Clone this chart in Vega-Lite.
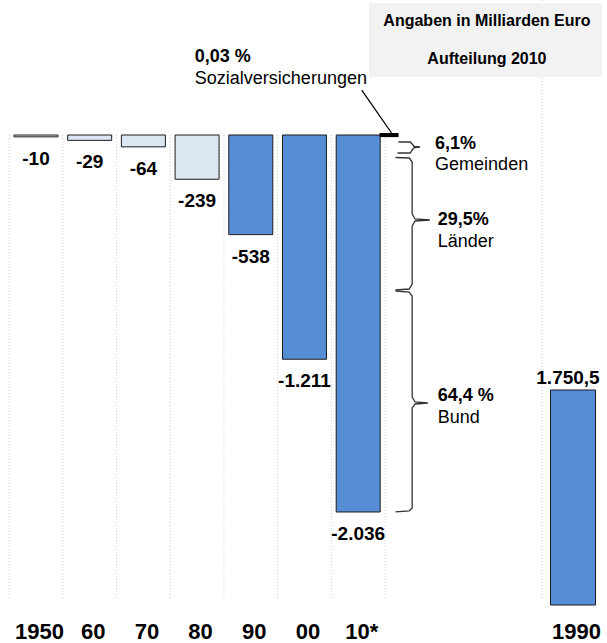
{
  "$schema": "https://vega.github.io/schema/vega-lite/v6.json",
  "width": 607,
  "height": 610,
  "padding": {"left": 0, "top": 0, "right": 0, "bottom": 33},
  "autosize": {"type": "none"},
  "config": {"view": {"stroke": null}, "font": "Liberation Sans", "text": {"font": "Liberation Sans"}},
  "datasets": {
    "bars": [
      {"year": 1950, "value": -10, "label": "-10", "group": "hell"},
      {"year": 1960, "value": -29, "label": "-29", "group": "hell"},
      {"year": 1970, "value": -64, "label": "-64", "group": "hell"},
      {"year": 1980, "value": -239, "label": "-239", "group": "hell"},
      {"year": 1990, "value": -538, "label": "-538", "group": "blau"},
      {"year": 2000, "value": -1211, "label": "-1.211", "group": "blau"},
      {"year": 2010, "value": -2036, "label": "-2.036", "group": "blau"}
    ],
    "grid": [
      {"year": 1945}, {"year": 1955}, {"year": 1965}, {"year": 1975},
      {"year": 1985}, {"year": 1995}, {"year": 2005}, {"year": 2015}
    ],
    "gridFull": [{"year": 2044.23}],
    "sozial": [{"year": 2015.75, "value": -0.6}],
    "braces": [
      {"brace": "Gemeinden", "i": 0, "year": 2017.49, "v": -37.8},
      {"brace": "Gemeinden", "i": 1, "year": 2019.69, "v": -37.8},
      {"brace": "Gemeinden", "i": 2, "year": 2020.05, "v": -48.6},
      {"brace": "Gemeinden", "i": 3, "year": 2020.42, "v": -62.1},
      {"brace": "Gemeinden", "i": 4, "year": 2021.52, "v": -64.8},
      {"brace": "Gemeinden", "i": 5, "year": 2020.42, "v": -67.5},
      {"brace": "Gemeinden", "i": 6, "year": 2020.05, "v": -81.0},
      {"brace": "Gemeinden", "i": 7, "year": 2019.69, "v": -97.2},
      {"brace": "Gemeinden", "i": 8, "year": 2017.31, "v": -97.2},
      {"brace": "Länder", "i": 0, "year": 2016.94, "v": -121.5},
      {"brace": "Länder", "i": 1, "year": 2019.50, "v": -124.2},
      {"brace": "Länder", "i": 2, "year": 2020.05, "v": -145.8},
      {"brace": "Länder", "i": 3, "year": 2020.05, "v": -426.6},
      {"brace": "Länder", "i": 4, "year": 2020.60, "v": -453.6},
      {"brace": "Länder", "i": 5, "year": 2023.35, "v": -459.0},
      {"brace": "Länder", "i": 6, "year": 2020.60, "v": -464.4},
      {"brace": "Länder", "i": 7, "year": 2020.05, "v": -491.4},
      {"brace": "Länder", "i": 8, "year": 2020.05, "v": -804.7},
      {"brace": "Länder", "i": 9, "year": 2019.50, "v": -831.7},
      {"brace": "Länder", "i": 10, "year": 2016.94, "v": -837.1},
      {"brace": "Bund", "i": 0, "year": 2016.94, "v": -842.5},
      {"brace": "Bund", "i": 1, "year": 2019.50, "v": -847.9},
      {"brace": "Bund", "i": 2, "year": 2020.05, "v": -869.5},
      {"brace": "Bund", "i": 3, "year": 2020.05, "v": -1414.9},
      {"brace": "Bund", "i": 4, "year": 2020.60, "v": -1441.9},
      {"brace": "Bund", "i": 5, "year": 2022.98, "v": -1447.3},
      {"brace": "Bund", "i": 6, "year": 2020.60, "v": -1452.7},
      {"brace": "Bund", "i": 7, "year": 2020.05, "v": -1474.3},
      {"brace": "Bund", "i": 8, "year": 2020.05, "v": -2014.3},
      {"brace": "Bund", "i": 9, "year": 2019.50, "v": -2030.5},
      {"brace": "Bund", "i": 10, "year": 2016.94, "v": -2035.9}
    ],
    "annoBold": [
      {"year": 1979.58, "v": 421.2, "text": "0,03 %"},
      {"year": 2024.32, "v": -48.6, "text": "6,1%"},
      {"year": 2024.82, "v": -459.0, "text": "29,5%"},
      {"year": 2024.82, "v": -1412.2, "text": "64,4 %"}
    ],
    "annoNormal": [
      {"year": 1979.58, "v": 302.4, "text": "Sozialversicherungen"},
      {"year": 2024.32, "v": -164.7, "text": "Gemeinden"},
      {"year": 2024.82, "v": -577.8, "text": "Länder"},
      {"year": 2024.82, "v": -1528.3, "text": "Bund"}
    ],
    "pointer": [{"year": 2010.66, "v": 243.0, "year2": 2016.21, "v2": 10.8}],
    "box": [{"year": 2012.0, "year2": 2055.4, "v": 712.9, "v2": 313.2}],
    "boxText": [
      {"year": 2033.97, "v": 615.6, "text": "Angaben in Milliarden Euro"},
      {"year": 2033.97, "v": 410.4, "text": "Aufteilung 2010"}
    ],
    "bar1990": [{"year": 2050, "value": 1750.5, "label": "1.750,5"}]
  },
  "layer": [
    {
      "layer": [
        {
          "data": {"name": "grid"},
          "mark": {"type": "rule", "stroke": "#cfcfcf", "strokeWidth": 1, "strokeDash": [1, 2]},
          "encoding": {
            "x": {"field": "year", "type": "quantitative", "scale": {"domain": [1944.23, 2055.4], "nice": false, "zero": false}},
            "y": {"datum": 0, "type": "quantitative", "scale": {"domain": [-2565.3, 729.1], "nice": false, "zero": false}, "axis": null},
            "y2": {"datum": -2511}
          }
        },
        {
          "data": {"name": "gridFull"},
          "mark": {"type": "rule", "stroke": "#cfcfcf", "strokeWidth": 1, "strokeDash": [1, 2]},
          "encoding": {
            "x": {"field": "year", "type": "quantitative"},
            "y": {"datum": 729.1, "type": "quantitative", "axis": null},
            "y2": {"datum": -2511}
          }
        },
        {
          "data": {"name": "box"},
          "mark": {"type": "rect", "fill": "#f2f2f2"},
          "encoding": {
            "x": {"field": "year", "type": "quantitative"},
            "x2": {"field": "year2"},
            "y": {"field": "v", "type": "quantitative", "axis": null},
            "y2": {"field": "v2"}
          }
        },
        {
          "data": {"name": "boxText"},
          "mark": {"type": "text", "fontSize": 16, "fontWeight": "bold", "align": "center", "baseline": "middle", "color": "#000000"},
          "encoding": {
            "x": {"field": "year", "type": "quantitative"},
            "y": {"field": "v", "type": "quantitative", "axis": null},
            "text": {"field": "text"}
          }
        },
        {
          "data": {"name": "bars"},
          "mark": {"type": "bar", "width": 44, "stroke": "#1a1a1a", "strokeWidth": 1},
          "encoding": {
            "x": {
              "field": "year", "type": "quantitative",
              "axis": {
                "values": [1950, 1960, 1970, 1980, 1990, 2000, 2010, 2050],
                "labelExpr": "datum.value==1950?'1950':datum.value==2000?'00':datum.value==2010?'10*':datum.value==2050?'1990':slice(''+datum.value,2)",
                "labelFontSize": 22, "labelFont": "Liberation Sans", "labelFontWeight": "bold", "labelColor": "#000000",
                "labelPadding": 11,
                "labelOffset": 3,
                "domain": false, "ticks": false, "grid": false, "title": null,
                "labelOverlap": false, "labelFlush": false, "labelBound": false
              }
            },
            "y": {"field": "value", "type": "quantitative", "axis": null},
            "y2": {"datum": 0},
            "color": {"field": "group", "type": "nominal", "scale": {"domain": ["hell", "blau"], "range": ["#dce6f2", "#558ed5"]}, "legend": null}
          }
        },
        {
          "data": {"name": "bars"},
          "mark": {"type": "text", "fontSize": 19, "fontWeight": "bold", "align": "center", "baseline": "middle", "dy": 22, "color": "#000000"},
          "encoding": {
            "x": {"field": "year", "type": "quantitative"},
            "y": {"field": "value", "type": "quantitative", "axis": null},
            "text": {"field": "label"}
          }
        },
        {
          "data": {"name": "sozial"},
          "mark": {"type": "bar", "width": 15, "fill": "#000000", "stroke": "#000000", "strokeWidth": 4},
          "encoding": {
            "x": {"field": "year", "type": "quantitative"},
            "y": {"field": "value", "type": "quantitative", "axis": null},
            "y2": {"datum": 0}
          }
        },
        {
          "data": {"name": "braces"},
          "mark": {"type": "line", "stroke": "#333333", "strokeWidth": 1.3},
          "encoding": {
            "x": {"field": "year", "type": "quantitative"},
            "y": {"field": "v", "type": "quantitative", "axis": null},
            "detail": {"field": "brace", "type": "nominal"},
            "order": {"field": "i", "type": "quantitative"}
          }
        },
        {
          "data": {"name": "pointer"},
          "mark": {"type": "rule", "stroke": "#000000", "strokeWidth": 1.3},
          "encoding": {
            "x": {"field": "year", "type": "quantitative"},
            "x2": {"field": "year2"},
            "y": {"field": "v", "type": "quantitative", "axis": null},
            "y2": {"field": "v2"}
          }
        },
        {
          "data": {"name": "annoBold"},
          "mark": {"type": "text", "fontSize": 18, "fontWeight": "bold", "align": "left", "baseline": "middle", "color": "#000000"},
          "encoding": {
            "x": {"field": "year", "type": "quantitative"},
            "y": {"field": "v", "type": "quantitative", "axis": null},
            "text": {"field": "text"}
          }
        },
        {
          "data": {"name": "annoNormal"},
          "mark": {"type": "text", "fontSize": 18, "align": "left", "baseline": "middle", "color": "#000000"},
          "encoding": {
            "x": {"field": "year", "type": "quantitative"},
            "y": {"field": "v", "type": "quantitative", "axis": null},
            "text": {"field": "text"}
          }
        }
      ]
    },
    {
      "data": {"name": "bar1990"},
      "layer": [
        {
          "mark": {"type": "bar", "width": 45, "fill": "#558ed5", "stroke": "#1a1a1a", "strokeWidth": 1},
          "encoding": {
            "x": {"field": "year", "type": "quantitative"},
            "y": {"field": "value", "type": "quantitative", "scale": {"domain": [-40.7, 4925.8], "nice": false, "zero": false}, "axis": null},
            "y2": {"datum": 0}
          }
        },
        {
          "mark": {"type": "text", "fontSize": 19, "fontWeight": "bold", "align": "center", "baseline": "middle", "dy": -12, "dx": -5, "color": "#000000"},
          "encoding": {
            "x": {"field": "year", "type": "quantitative"},
            "y": {"field": "value", "type": "quantitative", "axis": null},
            "text": {"field": "label"}
          }
        }
      ]
    }
  ],
  "resolve": {"scale": {"y": "independent"}, "axis": {"y": "independent"}}
}
